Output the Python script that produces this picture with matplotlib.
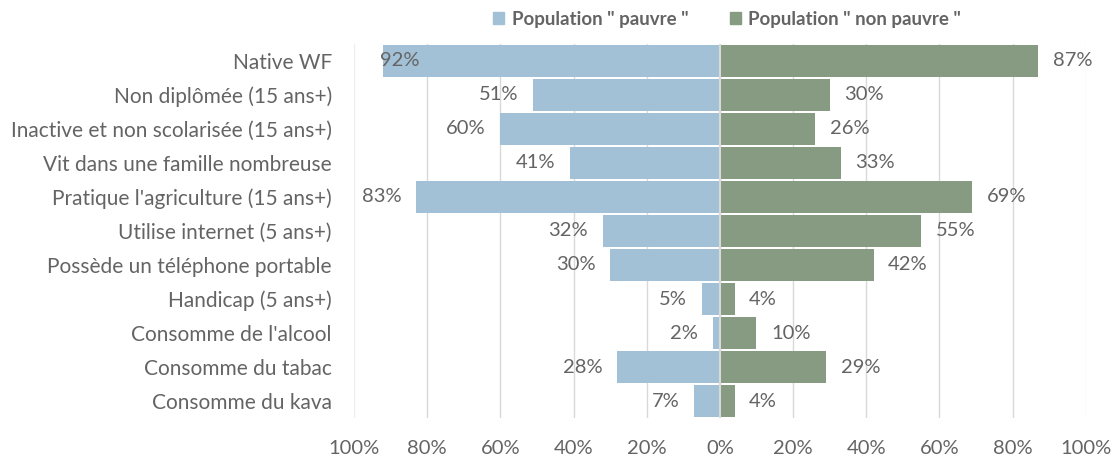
import matplotlib.pyplot as plt
import numpy as np
from matplotlib.patches import Patch
from matplotlib.ticker import FuncFormatter

plt.rcParams['font.family'] = ['Lato', 'DejaVu Sans']

categories = [
    "Native WF",
    "Non diplômée (15 ans+)",
    "Inactive et non scolarisée (15 ans+)",
    "Vit dans une famille nombreuse",
    "Pratique l'agriculture (15 ans+)",
    "Utilise internet (5 ans+)",
    "Possède un téléphone portable",
    "Handicap (5 ans+)",
    "Consomme de l'alcool",
    "Consomme du tabac",
    "Consomme du kava",
]
pauvre = [92, 51, 60, 41, 83, 32, 30, 5, 2, 28, 7]
non_pauvre = [87, 30, 26, 33, 69, 55, 42, 4, 10, 29, 4]
series_names = ['Population " pauvre "', 'Population " non pauvre "']

blue = "#a3c1d6"
green = "#879a82"
grey_txt = "#646464"
grid_col = "#d9d9d9"
fs = 14.5

fig = plt.figure(figsize=(11.17, 4.61), dpi=100)
ax = fig.add_axes([0.317, 0.093, 0.655, 0.812])

y = np.arange(len(categories))
h = 0.93
ax.barh(y, [-v for v in pauvre], height=h, color=blue, zorder=2)
ax.barh(y, non_pauvre, height=h, color=green, zorder=2)
ax.axvline(0, color=grid_col, lw=1.5, zorder=3)

ax.set_xlim(-100, 100)
ax.set_ylim(len(categories) - 0.5, -0.5)
ax.set_xticks(np.arange(-100, 101, 20))
ax.xaxis.set_major_formatter(FuncFormatter(lambda v, p: f"{abs(int(round(v)))}%"))
ax.set_yticks(y)
ax.set_yticklabels(categories)
ax.tick_params(axis='both', length=0, labelsize=fs, colors=grey_txt)
ax.tick_params(axis='y', pad=16, labelsize=15)
ax.tick_params(axis='x', pad=16)
ax.grid(axis='x', color=grid_col, lw=1, zorder=0)
gl = ax.get_xgridlines()
gl[0].set_color("#eeeeee")
gl[-1].set_color("#eeeeee")
for s in ax.spines.values():
    s.set_visible(False)

pad = 4
for i, v in enumerate(pauvre):
    if v > 85:
        ax.text(-v - 1, i, f"{v}%", ha='left', va='center', fontsize=fs, color=grey_txt, zorder=4)
    else:
        ax.text(-v - pad, i, f"{v}%", ha='right', va='center', fontsize=fs, color=grey_txt, zorder=4)
for i, v in enumerate(non_pauvre):
    ax.text(v + pad, i, f"{v}%", ha='left', va='center', fontsize=fs, color=grey_txt, zorder=4)

handles = [Patch(color=blue), Patch(color=green)]
leg = fig.legend(handles, series_names, loc='center', bbox_to_anchor=(0.651, 0.958),
                 ncol=2, frameon=False, handlelength=0.6, handleheight=0.6,
                 handletextpad=0.4, columnspacing=2.2,
                 prop={'weight': 'bold', 'size': 13.5})
for t in leg.get_texts():
    t.set_color(grey_txt)

fig.savefig("out.png", dpi=100)
